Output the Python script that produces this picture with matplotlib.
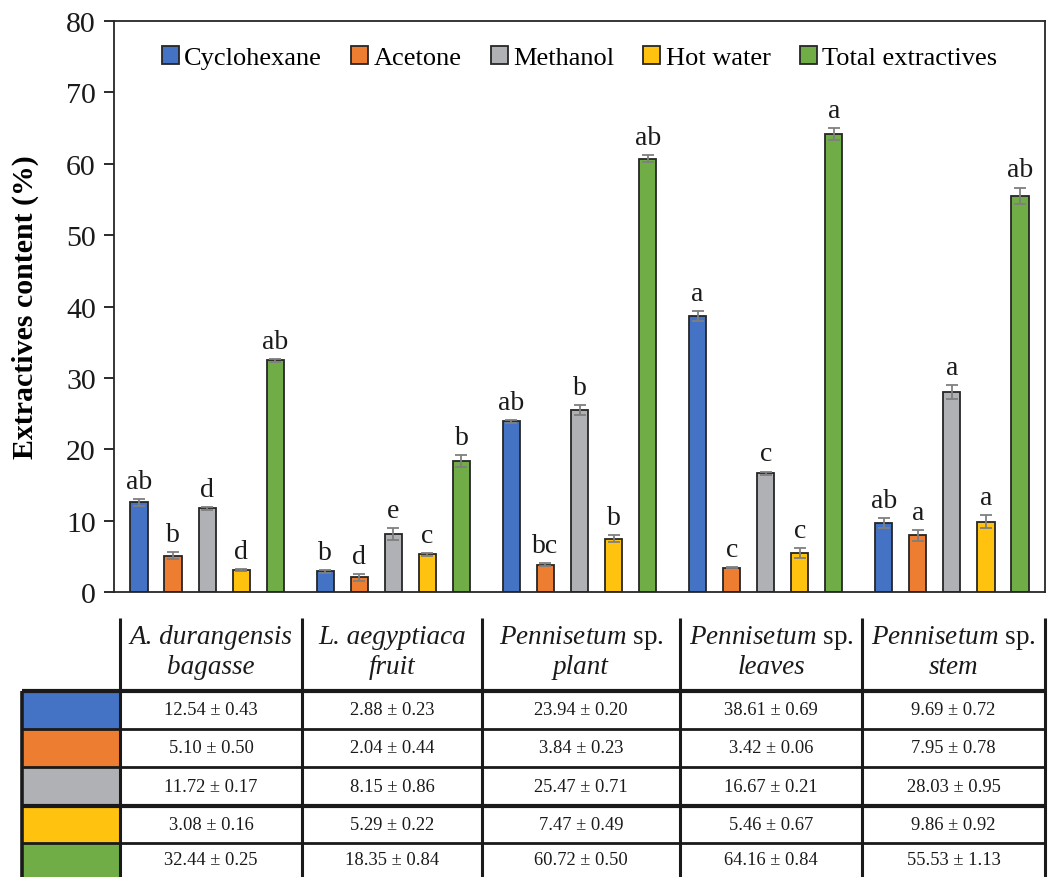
import numpy as np
import matplotlib
matplotlib.use("Agg")
import matplotlib.pyplot as plt
from matplotlib.patches import Rectangle

plt.rcParams['font.family'] = ['Liberation Serif', 'DejaVu Serif']
plt.rcParams['mathtext.fontset'] = 'custom'
plt.rcParams['mathtext.rm'] = 'Liberation Serif'
plt.rcParams['mathtext.it'] = 'Liberation Serif:italic'

# ---------------- data ----------------
samples = ["A. durangensis bagasse", "L. aegyptiaca fruit", "Pennisetum sp. plant",
           "Pennisetum sp. leaves", "Pennisetum sp. stem"]
series = ["Cyclohexane", "Acetone", "Methanol", "Hot water", "Total extractives"]
colors = ["#4472C4", "#ED7D31", "#B0B1B4", "#FFC20E", "#70AD47"]

cyclohexane = [12.54, 2.88, 23.94, 38.61, 9.69]
cyclohexane_sd = [0.43, 0.23, 0.20, 0.69, 0.72]
acetone = [5.10, 2.04, 3.84, 3.42, 7.95]
acetone_sd = [0.50, 0.44, 0.23, 0.06, 0.78]
methanol = [11.72, 8.15, 25.47, 16.67, 28.03]
methanol_sd = [0.17, 0.86, 0.71, 0.21, 0.95]
hot_water = [3.08, 5.29, 7.47, 5.46, 9.86]
hot_water_sd = [0.16, 0.22, 0.49, 0.67, 0.92]
total = [32.44, 18.35, 60.72, 64.16, 55.53]
total_sd = [0.25, 0.84, 0.50, 0.84, 1.13]

letters_cyclohexane = ["ab", "b", "ab", "a", "ab"]
letters_acetone = ["b", "d", "bc", "c", "a"]
letters_methanol = ["d", "e", "b", "c", "a"]
letters_hot_water = ["d", "c", "b", "c", "a"]
letters_total = ["ab", "b", "ab", "a", "ab"]

header_line1 = [("A. durangensis", None), ("L. aegyptiaca", None),
                ("Pennisetum", " sp."), ("Pennisetum", " sp."), ("Pennisetum", " sp.")]
header_line2 = ["bagasse", "fruit", "plant", "leaves", "stem"]
yticks = [0, 10, 20, 30, 40, 50, 60, 70, 80]

values = [cyclohexane, acetone, methanol, hot_water, total]
sds = [cyclohexane_sd, acetone_sd, methanol_sd, hot_water_sd, total_sd]
letters = [letters_cyclohexane, letters_acetone, letters_methanol, letters_hot_water, letters_total]

# ---------------- figure ----------------
W, H = 1052, 878
fig = plt.figure(figsize=(W / 100, H / 100), dpi=100)

def fx(px):
    return px / W

def fy(py):
    return 1 - py / H

ax_l, ax_r, ax_t, ax_b = 114, 1045, 22, 593
ax = fig.add_axes([fx(ax_l), fy(ax_b), fx(ax_r - ax_l), (ax_b - ax_t) / H])

x = np.arange(len(samples))
spacing = 0.183
width = 0.092
for i, (name, vals, sd, col, lets) in enumerate(zip(series, values, sds, colors, letters)):
    pos = x + (i - 2) * spacing
    ax.bar(pos, vals, width, color=col, edgecolor="#262626", linewidth=1.3, label=name, zorder=2)
    ax.errorbar(pos, vals, yerr=sd, fmt="none", ecolor="#7F7F7F", elinewidth=1.3,
                capsize=4, capthick=1.3, zorder=3)
    for p, v, s, t in zip(pos, vals, sd, lets):
        ax.annotate(t, (p, v + s), xytext=(0, 8), textcoords="offset points",
                    ha="center", va="baseline", fontsize=20, color="#1a1a1a")

ax.set_xlim(-0.5, len(samples) - 0.5)
ax.set_ylim(0, 80)
ax.set_yticks(yticks)
ax.set_xticks([])
ax.tick_params(axis="y", direction="out", length=7, width=1.3, labelsize=21.5, pad=6,
               colors="#1a1a1a")
for sp in ax.spines.values():
    sp.set_linewidth(1.3)
    sp.set_color("#262626")
ax.set_ylabel("Extractives content (%)", fontsize=21.5, fontweight="bold")
ax.yaxis.set_label_coords(-0.081, 0.5)

leg = ax.legend(loc="upper center", bbox_to_anchor=(0.5, 1.0), ncol=5, frameon=False,
                fontsize=19, handlelength=0.65, handleheight=0.65, handletextpad=0.2,
                columnspacing=1.1, borderaxespad=0.55)

# ---------------- table ----------------
tab = fig.add_axes([0, 0, 1, 1])
tab.set_xlim(0, W)
tab.set_ylim(H, 0)
tab.axis("off")

col_edges = [120, 302, 482, 680, 862, 1045]
row_edges = [692, 730, 768, 807, 844, 882]
left_x = 22
head_top = 619
lc = "#1a1a1a"

for r, col in enumerate(colors):
    tab.add_patch(Rectangle((left_x, row_edges[r]), col_edges[0] - left_x,
                            row_edges[r + 1] - row_edges[r], facecolor=col, edgecolor="none"))

for xe in col_edges:
    tab.plot([xe, xe], [head_top, H], color=lc, lw=2.2, solid_capstyle="butt")
tab.plot([left_x, left_x], [row_edges[0], H], color=lc, lw=2.6, solid_capstyle="butt")
for k, ye in enumerate(row_edges[:-1]):
    lw = 3.0 if k in (0, 3) else 2.0
    tab.plot([left_x, col_edges[-1]], [ye, ye], color=lc, lw=lw, solid_capstyle="butt")

for c in range(len(samples)):
    cx = (col_edges[c] + col_edges[c + 1]) / 2
    it, rm = header_line1[c]
    if rm is None:
        tab.text(cx, 638, it, ha="center", va="center", fontsize=19.5, style="italic", color=lc)
    else:
        tab.text(cx, 638, r"$\mathit{" + it + "}$" + rm, ha="center", va="center",
                 fontsize=19.5, color=lc)
    tab.text(cx, 668, header_line2[c], ha="center", va="center", fontsize=19.5,
             style="italic", color=lc)
    for r in range(len(series)):
        cy = (row_edges[r] + row_edges[r + 1]) / 2
        if r == 4:
            cy = (row_edges[r] + H) / 2
        tab.text(cx, cy, f"{values[r][c]:.2f} ± {sds[r][c]:.2f}", ha="center", va="center",
                 fontsize=13.3, color=lc)

fig.savefig("out.png", dpi=100)
